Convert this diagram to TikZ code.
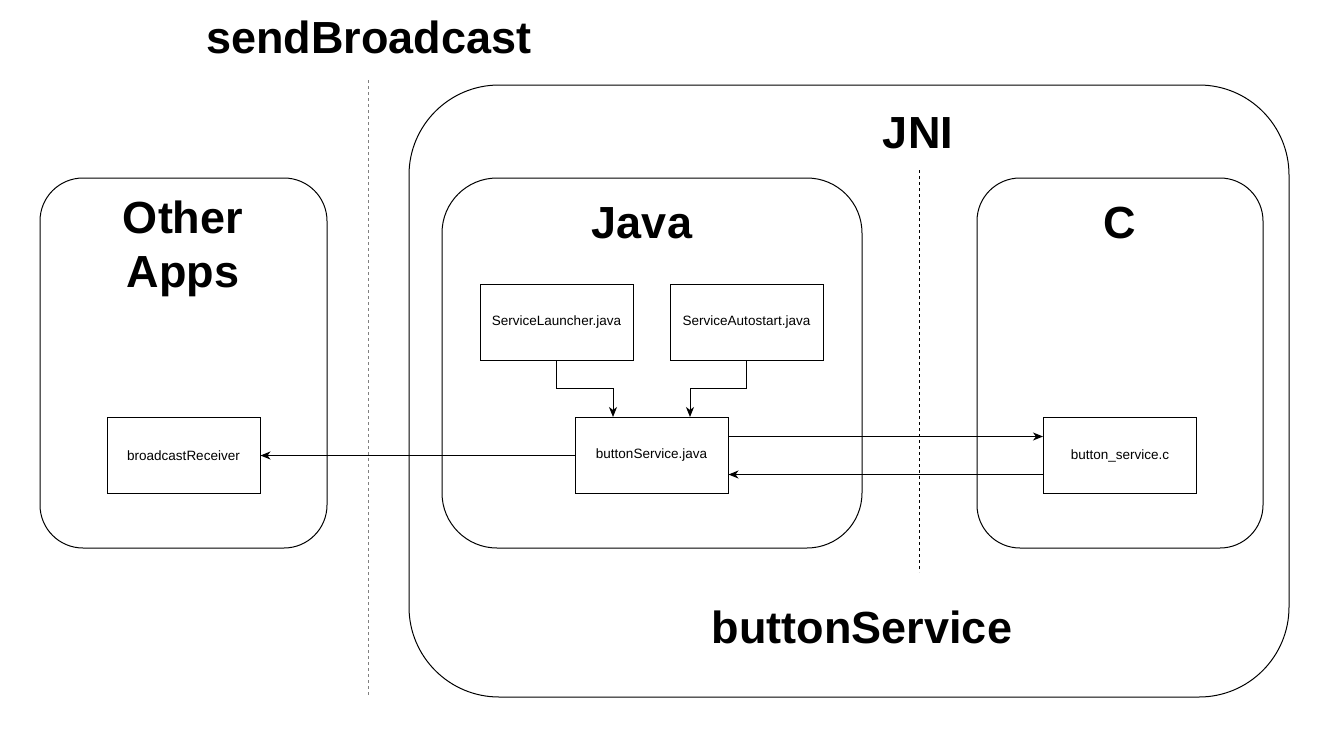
\documentclass[tikz,border=0pt]{standalone}
\usepackage{fontspec}
\setmainfont{Liberation Sans}
\usetikzlibrary{arrows.meta, positioning}

\begin{document}
\begin{tikzpicture}[x=1pt,y=-1pt,
    box/.style={draw,line width=1pt,minimum width=153pt,minimum height=76pt,
        inner sep=0pt,font=\fontsize{13.5}{15}\selectfont},
    frame/.style={draw,line width=1pt},
    title/.style={font=\fontsize{45}{54}\selectfont\bfseries,anchor=base,align=center},
    sep/.style={line width=1pt,dash pattern=on 3pt off 3pt},
    link/.style={line width=1pt,-{Stealth[length=10pt,width=8pt,inset=3pt]}}]
    \useasboundingbox (0,0) rectangle (1336,750);
    % containers
    \draw[frame,rounded corners=43pt] (40,178) rectangle (327,548);
    \draw[frame,rounded corners=90pt] (409,85) rectangle (1289,697);
    \draw[frame,rounded corners=55pt] (442,178) rectangle (862,548);
    \draw[frame,rounded corners=43pt] (977,178) rectangle (1263,548);
    % separators
    \draw[sep,gray] (368,80) -- (368,695);
    \draw[sep] (919,170) -- (919,572);
    % titles
    \node[title] (send) at (369,53) {sendBroadcast};
    \node[title] (other) at (183,287) {Other\\Apps};
    \node[title] (jni) at (918,148) {JNI};
    \node[title] (java) at (642,238) {Java};
    \node[title] (clang) at (1120,238) {C};
    \node[title] (service) at (862,643) {buttonService};
    % files
    \node[box] (receiver) at (183.5,455.5) {broadcastReceiver};
    \node[box] (launcher) at (556.5,322) {ServiceLauncher.java};
    \node[box] (autostart) at (746.5,322) {ServiceAutostart.java};
    \node[box] (bsjava) at (651.5,455.5) {buttonService.java};
    \node[box] (bsc) at (1120,455.5) {button\_service.c};
    % calls
    \draw[link] (bsjava) -- (receiver);
    \draw[link] ([yshift=19pt]bsjava.east) -- ([yshift=19pt]bsc.west);
    \draw[link] ([yshift=-19pt]bsc.west) -- ([yshift=-19pt]bsjava.east);
    \draw[link] (launcher.south) -- ++(0,28) -| ([xshift=-38.5pt]bsjava.north);
    \draw[link] (autostart.south) -- ++(0,28) -| ([xshift=38.5pt]bsjava.north);
\end{tikzpicture}
\end{document}
